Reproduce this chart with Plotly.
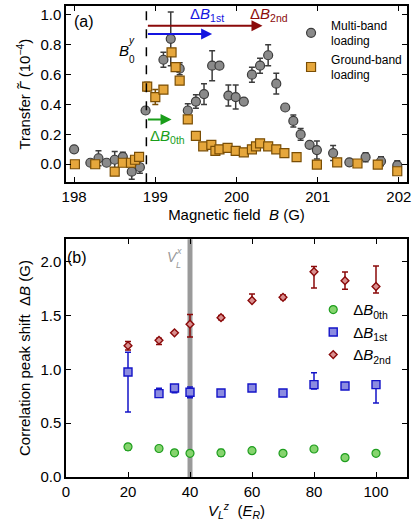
import plotly.graph_objects as go

# ---------------- Panel (a) data ----------------
mb_B = [198.0, 198.2, 198.3, 198.4, 198.5, 198.6, 198.71, 198.81, 198.88, 199.1, 199.19, 199.3,
        199.4, 199.5, 199.6, 199.7, 199.79, 199.9, 199.99, 200.09, 200.19, 200.29, 200.39, 200.49,
        200.6, 200.7, 200.79, 200.9, 200.99, 201.19, 201.39, 201.59, 201.78, 201.98]
mb_T = [0.10, 0.01, 0.04, 0.01, 0.03, 0.05, -0.05, -0.02, 0.36, 0.70, 0.84, 0.64,
        0.36, 0.42, 0.47, 0.66, 0.66, 0.46, 0.45, 0.42, 0.60, 0.66, 0.73, 0.54,
        0.38, 0.29, 0.20, 0.13, 0.095, 0.075, 0.013, 0.047, 0.02, -0.007]
mb_err = [0, 0, 0.05, 0, 0.055, 0.03, 0.05, 0.04, 0.02, 0.05, 0.18, 0.04,
          0.045, 0.045, 0.07, 0.1, 0.02, 0.07, 0.08, 0, 0.05, 0.05, 0.07, 0.07,
          0, 0.04, 0.04, 0, 0.06, 0.05, 0, 0.03, 0.03, 0.03]

gb_B = [198.01, 198.26, 198.5, 198.6, 198.7, 198.75, 198.8, 198.9, 199.0, 199.1, 199.2, 199.25,
        199.3, 199.4, 199.5, 199.59, 199.69, 199.74, 199.79, 199.89, 199.99, 200.09, 200.19, 200.24,
        200.29, 200.39, 200.49, 200.59, 200.74, 200.99, 201.24, 201.49, 201.74, 201.98]
gb_T = [0.0, 0.0, -0.05, 0.01, 0.01, 0.03, 0.05, 0.52, 0.45, 0.50, 0.75, 0.65,
        0.56, 0.30, 0.19, 0.12, 0.13, 0.09, 0.10, 0.11, 0.09, 0.08, 0.10, 0.12,
        0.14, 0.12, 0.10, 0.075, 0.047, -0.002, 0.013, 0.005, -0.002, -0.047]
gb_err = [0, 0, 0, 0, 0, 0, 0.02, 0.03, 0.05, 0, 0, 0,
          0, 0, 0, 0, 0, 0, 0, 0, 0, 0, 0, 0,
          0, 0, 0, 0, 0, 0, 0, 0, 0, 0]

B0y = 198.89
dB0_end, dB1_end, dB2_end = 199.2, 199.7, 200.32

# ---------------- Panel (b) data ----------------
V = [20, 30, 35, 40, 50, 60, 70, 80, 90, 100]
dB0 = [0.28, 0.265, 0.225, 0.22, 0.225, 0.245, 0.22, 0.26, 0.18, 0.22]
dB0_err = [0.03, 0, 0, 0.015, 0.03, 0, 0, 0, 0, 0]
dB1 = [0.975, 0.775, 0.827, 0.787, 0.78, 0.827, 0.78, 0.858, 0.845, 0.858]
dB1_plus = [0.185, 0.05, 0, 0.05, 0, 0, 0, 0.11, 0, 0]
dB1_minus = [0.37, 0, 0.045, 0.05, 0, 0, 0, 0.04, 0, 0.17]
dB2 = [1.22, 1.27, 1.34, 1.42, 1.48, 1.64, 1.67, 1.907, 1.824, 1.77]
dB2_plus = [0.04, 0.02, 0, 0.09, 0.02, 0.06, 0.02, 0.05, 0.08, 0.19]
dB2_minus = [0.04, 0.04, 0, 0.12, 0.02, 0, 0.02, 0.15, 0.08, 0.06]
VLx = 40

FONT = "Liberation Sans, Arial, sans-serif"
fig = go.Figure()

fig.add_trace(go.Scatter(
    x=mb_B, y=mb_T, mode="markers", name="Multi-band<br>loading", legend="legend",
    marker=dict(symbol="circle", size=9, color="#8a8a8a", line=dict(color="#3c3c3c", width=1.2)),
    error_y=dict(type="data", array=mb_err, color="#3c3c3c", thickness=1.5, width=3),
    xaxis="x", yaxis="y"))
fig.add_trace(go.Scatter(
    x=gb_B, y=gb_T, mode="markers", name="Ground-band<br>loading", legend="legend",
    marker=dict(symbol="square", size=9, color="#e6a73c", line=dict(color="#7a4e05", width=1.2)),
    error_y=dict(type="data", array=gb_err, color="#7a4e05", thickness=1.5, width=3),
    xaxis="x", yaxis="y"))

fig.add_trace(go.Scatter(
    x=V, y=dB0, mode="markers", name="Δ<i>B</i><sub>0th</sub>", legend="legend2",
    marker=dict(symbol="circle", size=8, color="#86d46e", line=dict(color="#1f9e1f", width=1.2)),
    error_y=dict(type="data", array=dB0_err, color="#1f9e1f", thickness=1.5, width=3),
    xaxis="x2", yaxis="y2"))
fig.add_trace(go.Scatter(
    x=V, y=dB1, mode="markers", name="Δ<i>B</i><sub>1st</sub>", legend="legend2",
    marker=dict(symbol="square", size=8, color="#8c8ce0", line=dict(color="#1414c8", width=1.4)),
    error_y=dict(type="data", symmetric=False, array=dB1_plus, arrayminus=dB1_minus,
                 color="#1414c8", thickness=1.5, width=3),
    xaxis="x2", yaxis="y2"))
fig.add_trace(go.Scatter(
    x=V, y=dB2, mode="markers", name="Δ<i>B</i><sub>2nd</sub>", legend="legend2",
    marker=dict(symbol="diamond", size=6, color="#d99090", line=dict(color="#8b0a0a", width=1.4)),
    error_y=dict(type="data", symmetric=False, array=dB2_plus, arrayminus=dB2_minus,
                 color="#8b0a0a", thickness=1.5, width=3),
    xaxis="x2", yaxis="y2"))

axis_common = dict(showline=True, linecolor="black", linewidth=1.5, mirror="ticks",
                   ticks="inside", ticklen=5, tickwidth=1.2, tickcolor="black",
                   showgrid=False, zeroline=False,
                   tickfont=dict(family=FONT, size=15, color="black"))

fig.update_layout(
    width=415, height=530,
    margin=dict(l=66, r=8, t=4, b=53),
    paper_bgcolor="white", plot_bgcolor="white",
    font=dict(family=FONT, size=15, color="black"),
    xaxis=dict(domain=[0, 1], range=[197.9, 202.1], anchor="y", tickvals=[198, 199, 200, 201, 202],
               title=dict(text="Magnetic field  <i>B</i> (G)", standoff=6, font=dict(size=15)),
               **axis_common),
    yaxis=dict(domain=[0.626, 1.0], range=[-0.12, 1.06], anchor="x",
               tickvals=[0, 0.2, 0.4, 0.6, 0.8, 1.0], tickformat=".1f",
               title=dict(text="Transfer <i>Γ̃</i> (10<sup>−4</sup>)", standoff=6, font=dict(size=15)),
               **axis_common),
    xaxis2=dict(domain=[0, 1], range=[0, 110], anchor="y2", tickvals=[0, 20, 40, 60, 80, 100],
                title=dict(text="<i>V</i><sub><i>L</i></sub><sup><i>z</i></sup>  (<i>E</i><sub><i>R</i></sub>)",
                           standoff=6, font=dict(size=15)),
                **axis_common),
    yaxis2=dict(domain=[0, 0.505], range=[0, 2.21], anchor="x2",
                tickvals=[0, 0.5, 1.0, 1.5, 2.0], tickformat=".1f",
                title=dict(text="Correlation peak shift  Δ<i>B</i> (G)", standoff=6, font=dict(size=15)),
                **axis_common),
    legend=dict(x=0.66, y=0.99, xanchor="left", yanchor="top", bgcolor="rgba(0,0,0,0)",
                font=dict(family=FONT, size=12), tracegroupgap=4, itemsizing="trace"),
    legend2=dict(x=0.725, y=0.39, xanchor="left", yanchor="top", bgcolor="rgba(0,0,0,0)",
                 font=dict(family=FONT, size=15), tracegroupgap=0, itemsizing="trace"),
)

# dashed B0^y line
fig.add_shape(type="line", xref="x", yref="y domain", x0=B0y, x1=B0y, y0=0, y1=1,
              line=dict(color="black", width=1.5, dash="dash"))
# V_L^x band
fig.add_shape(type="rect", xref="x2", yref="y2 domain", x0=VLx - 0.8, x1=VLx + 0.8, y0=0, y1=1,
              fillcolor="#9a9a9a", line=dict(width=0), layer="below")

# arrows
arrows = [(dB2_end, 0.927, "#8b0a0a"), (dB1_end, 0.873, "#1414e0"), (dB0_end, 0.30, "#1a9e1a")]
for xe, ye, col in arrows:
    fig.add_annotation(x=xe, y=ye, ax=B0y, ay=ye, xref="x", yref="y", axref="x", ayref="y",
                       showarrow=True, arrowhead=2, arrowsize=1.1, arrowwidth=2, arrowcolor=col, text="")

labels = [
    (200.40, 1.0, "Δ<i>B</i><sub>2nd</sub>", "#8b0a0a", 15),
    (199.64, 1.0, "Δ<i>B</i><sub>1st</sub>", "#1414e0", 15),
    (199.15, 0.187, "Δ<i>B</i><sub>0th</sub>", "#1a9e1a", 15),
    (198.12, 0.953, "(a)", "black", 16),
    (198.61, 0.76, "<i>B</i>", "black", 15),
    (198.71, 0.83, "<i>y</i>", "black", 10),
    (198.71, 0.70, "0", "black", 10),
]
for xl, yl, t, c, s in labels:
    fig.add_annotation(x=xl, y=yl, xref="x", yref="y", text=t, showarrow=False,
                       font=dict(family=FONT, size=s, color=c))

labels2 = [
    (3.6, 2.04, "(b)", "black", 16),
    (34.2, 2.04, "<i>V</i>", "#999999", 14),
    (36.4, 2.10, "<i>x</i>", "#999999", 9),
    (36.4, 1.97, "<i>L</i>", "#999999", 9),
]
for xl, yl, t, c, s in labels2:
    fig.add_annotation(x=xl, y=yl, xref="x2", yref="y2", text=t, showarrow=False,
                       font=dict(family=FONT, size=s, color=c))

fig.write_html("out.html", config={"displayModeBar": False},
               post_script="document.body.style.margin='0';")
